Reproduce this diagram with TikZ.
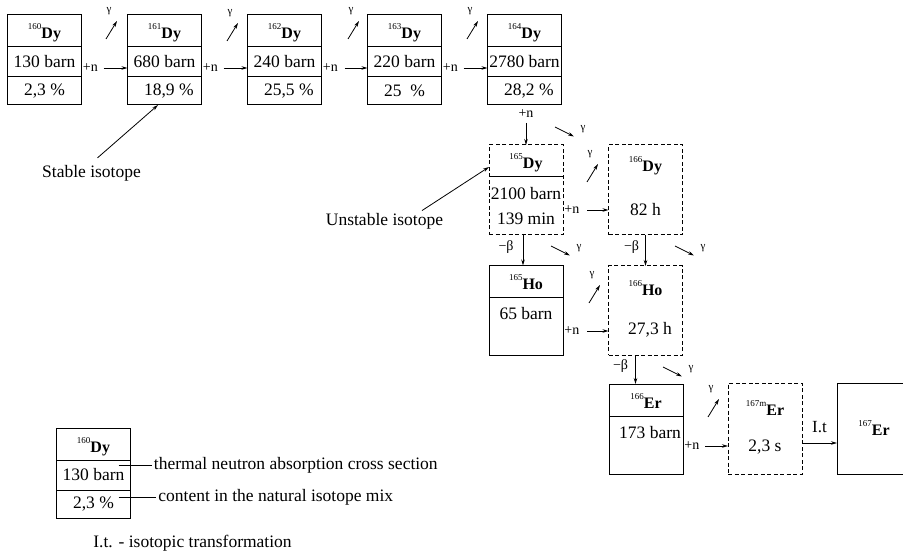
\documentclass[tikz,border=0pt]{standalone}
\usepackage{fontspec}
\setmainfont{Liberation Serif}
\usetikzlibrary{arrows.meta, positioning, fit}
\newcommand\isot[2]{\raisebox{9pt}{\fontsize{9}{9}\selectfont #1}{\fontsize{16}{16}\selectfont\bfseries #2}}

\begin{document}
\begin{tikzpicture}[x=1pt,y=-1pt,on grid,>={Stealth[length=6pt,width=3.5pt]},
      font=\fontsize{17.5}{21}\selectfont,line width=0.8pt,
      cell/.style={draw,line width=1pt,minimum width=74pt,inner sep=0pt,outer sep=0pt},
      hcell/.style={cell,minimum height=32pt,text height=19pt,text depth=3pt},
      bcell/.style={cell,minimum height=30pt},
      pcell/.style={cell,minimum height=28pt},
      dashbox/.style={cell,dash pattern=on 4pt off 2.5pt},
      every fit/.style={dashbox},
      txt/.style={inner sep=2pt},
      pn/.style={inner sep=1pt,font=\fontsize{14}{14}\selectfont},
      gam/.style={inner sep=0pt,font=\fontsize{11}{11}\selectfont}]
      \useasboundingbox (0,0) rectangle (903,556);

      \node[hcell] (dy_160) at (44.5,31) {\isot{160}{Dy}};
      \node[hcell] (dy_161) [right=120pt of dy_160] {\isot{161}{Dy}};
      \node[hcell] (dy_162) [right=120pt of dy_161] {\isot{162}{Dy}};
      \node[hcell] (dy_163) [right=120pt of dy_162] {\isot{163}{Dy}};
      \node[hcell] (dy_164) [right=120pt of dy_163] {\isot{164}{Dy}};
      \node[bcell] (dy_160b) [below=31pt of dy_160] {130 barn};
      \node[bcell] (dy_161b) [below=31pt of dy_161] {680 barn};
      \node[bcell] (dy_162b) [below=31pt of dy_162] {240 barn};
      \node[bcell] (dy_163b) [below=31pt of dy_163] {220 barn};
      \node[bcell] (dy_164b) [below=31pt of dy_164] {2780 barn};
      \node[pcell] (dy_160c) [below=29pt of dy_160b] {2,3 \%};
      \node[pcell] (dy_161c) [below=29pt of dy_161b] {\enspace 18,9 \%};
      \node[pcell] (dy_162c) [below=29pt of dy_162b] {\enspace 25,5 \%};
      \node[pcell] (dy_163c) [below=29pt of dy_163b] {25\ \ \%};
      \node[pcell] (dy_164c) [below=29pt of dy_164b] {\enspace 28,2 \%};

      \node[hcell,draw=none] (dy_165) at (526,161) {\isot{165}{Dy}};
      \node[cell,draw=none,minimum height=58pt,align=center,font=\fontsize{17.5}{25}\selectfont]
        (dy_165b) [below=45pt of dy_165] {2100 barn\\139 min};
      \node[fit=(dy_165)(dy_165b)] (dy_165f) {};
      \draw[line width=1pt] (dy_165.south west) -- (dy_165.south east);

      \node[dashbox,minimum height=90pt] (dy_166) at (645.5,190) {};
      \node[txt] (dy_166t) at ([yshift=-20.5pt]dy_166.north) {\isot{166}{Dy}};
      \node[txt] (dy_166h) at ([yshift=-65pt]dy_166.north) {82 h};

      \node[hcell] (ho_165) at (526,281.5) {\isot{165}{Ho}};
      \node[cell,minimum height=58pt] (ho_165b) [below=45pt of ho_165] {};
      \node[txt] (ho_165t) at ([yshift=-16.5pt]ho_165b.north) {65 barn};

      \node[dashbox,minimum height=89pt] (ho_166) at (645.5,310.5) {};
      \node[txt] (ho_166t) at ([yshift=-22.5pt]ho_166.north) {\isot{166}{Ho}};
      \node[txt] (ho_166h) at ([xshift=4.5pt,yshift=-63.5pt]ho_166.north) {27,3 h};

      \node[hcell] (er_166) at (646,400) {\isot{166}{Er}};
      \node[cell,minimum height=58pt] (er_166b) [below=45pt of er_166] {};
      \node[txt] (er_166t) at ([xshift=4pt,yshift=-17pt]er_166b.north) {173 barn};

      \node[dashbox,minimum height=91pt] (er_167m) at (765,428.5) {};
      \node[txt] (er_167mt) at ([yshift=-25pt]er_167m.north) {\isot{167m}{Er}};
      \node[txt] (er_167mh) at ([yshift=-64.5pt]er_167m.north) {2,3 s};
      \node[cell,minimum height=91pt] (er_167) at (874,428.5) {\isot{167}{Er}};

      \path[->]
      ([yshift=-6pt]dy_160b.east) edge[shorten <=22pt] node[pn,pos=0,anchor=west] {+n} ([yshift=-6pt]dy_161b.west)
      ([yshift=-6pt]dy_161b.east) edge[shorten <=22pt] node[pn,pos=0,anchor=west] {+n} ([yshift=-6pt]dy_162b.west)
      ([yshift=-6pt]dy_162b.east) edge[shorten <=23pt] node[pn,pos=0,anchor=west] {+n} ([yshift=-6pt]dy_163b.west)
      ([yshift=-6pt]dy_163b.east) edge[shorten <=22pt] node[pn,pos=0,anchor=west] {+n} ([yshift=-6pt]dy_164b.west)
      (dy_164c.south -| dy_165f.north) edge[shorten <=18pt] node[pn,pos=0,anchor=north,yshift=-3pt] {+n} (dy_165f.north)
      ([yshift=-4pt]dy_165b.east) edge[shorten <=24pt] node[pn,pos=0,anchor=west] {+n} ([yshift=-4pt]dy_165b.east -| dy_166.west)
      ([xshift=-3pt]dy_165f.south) edge node[pn,left=8pt,yshift=3pt] {−β} ([xshift=-3pt]ho_165.north)
      (dy_166.south) edge node[pn,left=5pt,yshift=3pt] {−β} (ho_166.north)
      ([yshift=-4.5pt]ho_165b.east) edge[shorten <=24pt] node[pn,pos=0,anchor=west] {+n} ([yshift=-4.5pt]ho_165b.east -| ho_166.west)
      ([xshift=-10pt]ho_166.south) edge node[pn,left=6pt,yshift=3pt] {−β} ([xshift=-10pt]ho_166.south |- er_166.north)
      ([yshift=-1pt]er_166b.east) edge[shorten <=22pt] node[pn,pos=0,anchor=west] {+n} ([yshift=-1pt]er_166b.east -| er_167m.west)
      ([yshift=-14.5pt]er_167m.east) edge node[pn,font=\fontsize{17}{17}\selectfont,midway,above=9pt] {I.t} ([yshift=-14.5pt]er_167m.east -| er_167.west);

      \foreach \x/\y [count=\i] in {106/39,227/41,348/39,467/39,587/182,589/303,708/417}{
        \coordinate (gua_\i) at (\x,\y);
        \coordinate (gub_\i) at (\x+11,\y-18);
        \draw[->] (gua_\i) -- (gub_\i);
        \node[gam] (gul_\i) at (\x+3,\y-28) {γ};
      }
      \foreach \x/\y [count=\i] in {555/127,551/246,675/246,663/367}{
        \coordinate (gda_\i) at (\x,\y);
        \coordinate (gdb_\i) at (\x+19,\y+9.5);
        \draw[->] (gda_\i) -- (gdb_\i);
        \node[gam] (gdl_\i) at (\x+28,\y+2) {γ};
      }

      \node[txt] (stable) at (91.5,173.2) {Stable isotope};
      \draw[->] ([xshift=6pt,yshift=5pt]stable.north) -- ([xshift=-6.5pt]dy_161c.south);
      \node[txt] (unstable) at (384.5,220.9) {Unstable isotope};
      \draw[->] ([xshift=37.5pt]unstable.north) -- ([yshift=-6pt]dy_165.west);

      \node[hcell] (leg) at (93.5,444) {\isot{160}{Dy}};
      \node[bcell] (leg_b) [below=31pt of leg] {130 barn};
      \node[pcell] (leg_c) [below=29pt of leg_b] {2,3 \%};
      \node[txt,anchor=west] (leg_t1) at (151.5,465.5) {thermal neutron absorption cross section};
      \node[txt,anchor=west] (leg_t2) at (156,497.5) {content in the natural isotope mix};
      \draw ([xshift=-12pt,yshift=9.5pt]leg_b.east) -- (leg_t1.west);
      \draw ([xshift=-12pt,yshift=6.5pt]leg_c.east) -- (leg_t2.west);
      \node[txt,anchor=west] (leg_it) at (91,543.6) {I.t. - isotopic transformation};
    \end{tikzpicture}
\end{document}
